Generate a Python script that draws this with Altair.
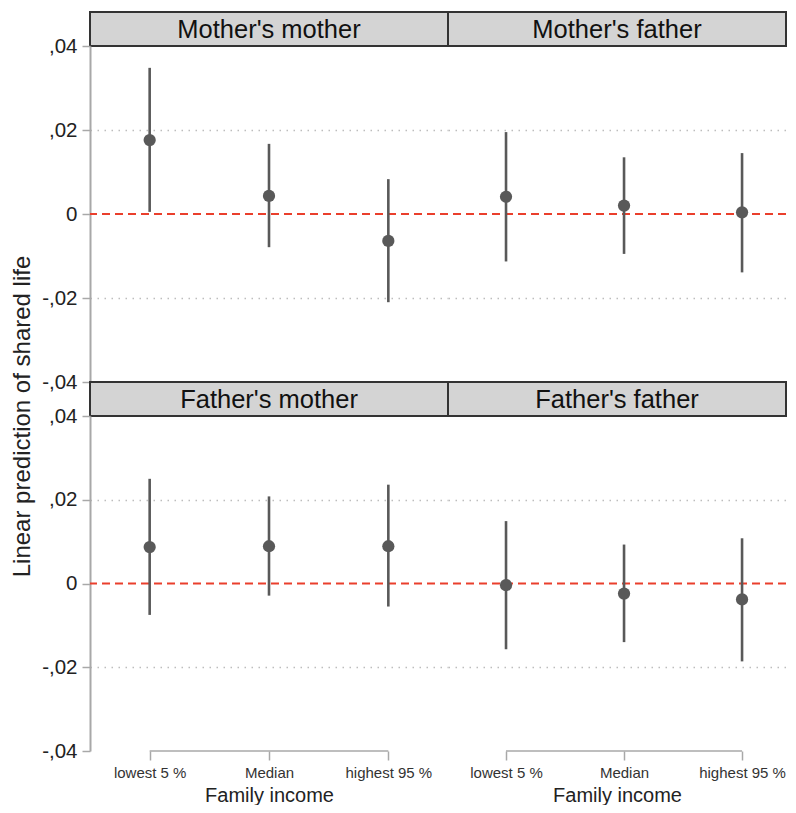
import altair as alt
import pandas as pd

# ---------------- data ----------------
CATEGORIES = ["lowest 5 %", "Median", "highest 95 %"]
PANELS = ["Mother's mother", "Mother's father", "Father's mother", "Father's father"]

EST_MM = [0.0176, 0.0043, -0.0064]
LO_MM = [0.0005, -0.0079, -0.0210]
HI_MM = [0.0348, 0.0167, 0.0083]

EST_MF = [0.0041, 0.0020, 0.0004]
LO_MF = [-0.0113, -0.0095, -0.0139]
HI_MF = [0.0195, 0.0135, 0.0145]

EST_FM = [0.0087, 0.0089, 0.0089]
LO_FM = [-0.0075, -0.0029, -0.0055]
HI_FM = [0.0250, 0.0208, 0.0236]

EST_FF = [-0.0004, -0.0024, -0.0038]
LO_FF = [-0.0157, -0.0140, -0.0186]
HI_FF = [0.0149, 0.0093, 0.0108]

Y_TICKS = [-0.04, -0.02, 0.0, 0.02, 0.04]
REF_LINE = [0.0]

# ---------------- style ----------------
FONT = "Liberation Sans"
DARK = "#595959"
RED = "#ea3f2c"
AXIS_GREY = "#a8a8a8"
HEADER_FILL = "#d4d4d4"
HEADER_STROKE = "#333333"
HEADER_H = 34
LEFT_W, RIGHT_W = 358, 338
TOP_H, BOTTOM_H = 336, 335

# point-scale placement (padding in steps, align of outer padding)
LEFT_X = dict(padding=0.5, align=0.5)
RIGHT_X = dict(padding=0.432, align=0.569)


def panel_df(est, lo, hi):
    return pd.DataFrame({"income": CATEGORIES, "est": est, "lo": lo, "hi": hi})


def header(name, width):
    return (
        alt.Chart(pd.DataFrame({"panel": [name]}))
        .mark_text(font=FONT, fontSize=25.5, color="#111111", baseline="middle", align="center")
        .encode(x=alt.value(width / 2), y=alt.value(HEADER_H / 2 + 1), text="panel:N")
        .properties(
            width=width,
            height=HEADER_H,
            view=alt.ViewBackground(fill=HEADER_FILL, stroke=HEADER_STROKE, strokeWidth=2),
        )
    )


def plot(df, width, height, left, bottom, title, xplace):
    yscale = alt.Scale(domain=[Y_TICKS[0], Y_TICKS[-1]], nice=False, zero=False)
    label_expr = ("datum.value == 0 ? '0' : (datum.value < 0 ? '-,' : ',') + "
                  "format(abs(datum.value) * 100, '02d')")
    yaxis_kw = dict(
        values=Y_TICKS,
        grid=True,
        gridDash=[1.5, 5.5],
        gridColor="#bdbdbd",
        gridWidth=1.3,
        gridOpacity={"condition": {"test": "abs(datum.value) > 0.03 || datum.value == 0", "value": 0},
                     "value": 1},
        labels=left,
        ticks=left,
        domain=left,
        title=None,
    )
    if left:
        yaxis_kw.update(
            labelExpr=label_expr,
            labelFont=FONT,
            labelFontSize=20.5,
            labelColor="#222222",
            labelPadding=5,
            tickColor=AXIS_GREY,
            tickSize=8,
            tickWidth=1.5,
            domainColor=AXIS_GREY,
            domainWidth=2,
        )
    if title:
        yaxis_kw.update(
            title=title,
            titleFont=FONT,
            titleFontSize=24,
            titleFontWeight="normal",
            titleColor="#222222",
            titleAngle=270,
            titleX=-68,
            titleY=370,
            titleAlign="center",
            titleBaseline="middle",
        )
    yaxis = alt.Axis(**yaxis_kw)

    xscale = alt.Scale(type="point", domain=CATEGORIES, **xplace)
    if bottom:
        xaxis = alt.Axis(
            domain=False,
            grid=False,
            ticks=True,
            tickColor=AXIS_GREY,
            tickSize=9,
            tickWidth=1.5,
            labels=True,
            labelAngle=0,
            labelFont=FONT,
            labelFontSize=15,
            labelColor="#333333",
            labelPadding=5,
            title="Family income",
            titleFont=FONT,
            titleFontSize=20,
            titleFontWeight="normal",
            titleColor="#222222",
            titlePadding=5,
        )
    else:
        xaxis = None

    def yenc(field):
        return alt.Y(field, type="quantitative", scale=yscale, axis=yaxis)

    def xenc(field):
        return alt.X(field, type="nominal", scale=xscale, axis=xaxis, sort=CATEGORIES)

    base = alt.Chart(df)
    zero = (
        alt.Chart(pd.DataFrame({"ref": REF_LINE}))
        .mark_rule(color=RED, strokeDash=[8, 5], strokeWidth=2)
        .encode(y=yenc("ref"))
    )
    ci = base.mark_rule(color=DARK, strokeWidth=2.6).encode(x=xenc("income"), y=yenc("lo"), y2="hi")
    pts = base.mark_circle(size=150, color=DARK, opacity=1).encode(x=xenc("income"), y=yenc("est"))
    layers = [zero, ci, pts]
    if bottom:
        bracket = (
            alt.Chart(pd.DataFrame({"start": [CATEGORIES[0]], "end": [CATEGORIES[-1]],
                                    "base": [Y_TICKS[0]]}))
            .mark_rule(color=AXIS_GREY, strokeWidth=1.5)
            .encode(x=xenc("start"), x2="end", y=yenc("base"))
        )
        layers.append(bracket)
    return alt.layer(*layers).properties(width=width, height=height)


items = [
    header(PANELS[0], LEFT_W),
    header(PANELS[1], RIGHT_W),
    plot(panel_df(EST_MM, LO_MM, HI_MM), LEFT_W, TOP_H, True, False,
         "Linear prediction of shared life", LEFT_X),
    plot(panel_df(EST_MF, LO_MF, HI_MF), RIGHT_W, TOP_H, False, False, None, RIGHT_X),
    header(PANELS[2], LEFT_W),
    header(PANELS[3], RIGHT_W),
    plot(panel_df(EST_FM, LO_FM, HI_FM), LEFT_W, BOTTOM_H, True, True, None, LEFT_X),
    plot(panel_df(EST_FF, LO_FF, HI_FF), RIGHT_W, BOTTOM_H, False, True, None, RIGHT_X),
]

chart = (
    alt.concat(*items, columns=2, spacing=0, bounds="flush")
    .resolve_scale(x="independent", y="independent")
    .properties(padding={"left": 2, "top": 3, "right": 0, "bottom": 0}, background="white")
    .configure(font=FONT)
    .configure_view(strokeWidth=0)
)

chart.save("out.html", embed_options={"renderer": "svg", "actions": False})
